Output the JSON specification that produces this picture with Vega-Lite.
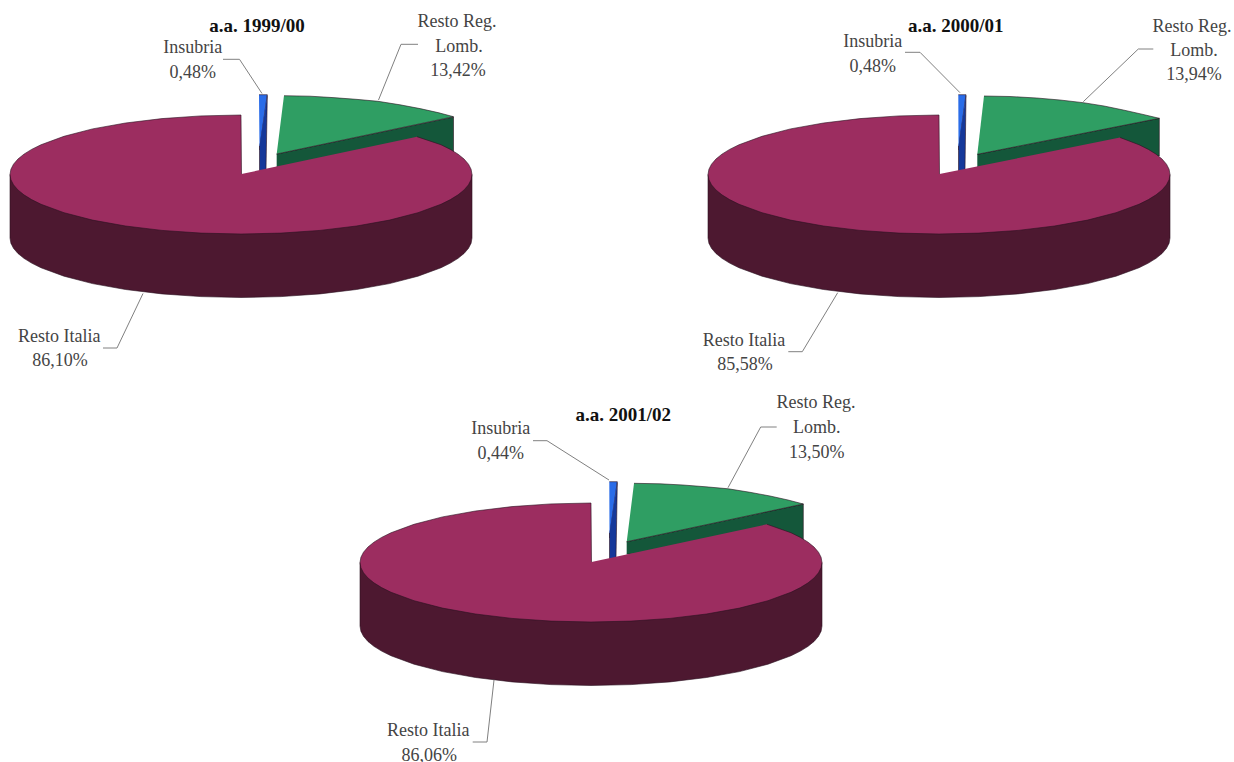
{"$schema":"https://vega.github.io/schema/vega-lite/v6.json","padding":0,"background":"white","spacing":0,"config":{"view":{"stroke":null},"concat":{"spacing":0}},
"datasets":{
"shapes":[
{"year":"1999/00","part":"RegSide","seq":1,"x":276.7,"y":154},{"year":"1999/00","part":"RegSide","seq":2,"x":453.5,"y":117},{"year":"1999/00","part":"RegSide","seq":3,"x":453.5,"y":152},{"year":"1999/00","part":"RegSide","seq":4,"x":276.7,"y":167},
{"year":"2000/01","part":"RegSide","seq":1,"x":279.3,"y":154.3},{"year":"2000/01","part":"RegSide","seq":2,"x":461.3,"y":118.3},{"year":"2000/01","part":"RegSide","seq":3,"x":461.3,"y":156},{"year":"2000/01","part":"RegSide","seq":4,"x":279.3,"y":167},
{"year":"2001/02","part":"RegSide","seq":1,"x":276.7,"y":153.7},{"year":"2001/02","part":"RegSide","seq":2,"x":453.3,"y":116},{"year":"2001/02","part":"RegSide","seq":3,"x":453.3,"y":152},{"year":"2001/02","part":"RegSide","seq":4,"x":276.7,"y":166.3},
{"year":"1999/00","part":"RegTop","seq":1,"x":284,"y":95.7},{"year":"1999/00","part":"RegTop","seq":2,"x":310,"y":96.2},{"year":"1999/00","part":"RegTop","seq":3,"x":333,"y":97.6},{"year":"1999/00","part":"RegTop","seq":4,"x":356,"y":99.3},{"year":"1999/00","part":"RegTop","seq":5,"x":378,"y":101.3},{"year":"1999/00","part":"RegTop","seq":6,"x":400,"y":104.8},{"year":"1999/00","part":"RegTop","seq":7,"x":420,"y":108.6},{"year":"1999/00","part":"RegTop","seq":8,"x":438,"y":112.6},{"year":"1999/00","part":"RegTop","seq":9,"x":453.5,"y":116.7},{"year":"1999/00","part":"RegTop","seq":10,"x":276.7,"y":154},
{"year":"2000/01","part":"RegTop","seq":1,"x":286,"y":96},{"year":"2000/01","part":"RegTop","seq":2,"x":312,"y":96.5},{"year":"2000/01","part":"RegTop","seq":3,"x":338.7,"y":98},{"year":"2000/01","part":"RegTop","seq":4,"x":362,"y":100},{"year":"2000/01","part":"RegTop","seq":5,"x":385.3,"y":102.7},{"year":"2000/01","part":"RegTop","seq":6,"x":406,"y":106},{"year":"2000/01","part":"RegTop","seq":7,"x":425.3,"y":110},{"year":"2000/01","part":"RegTop","seq":8,"x":444,"y":114.2},{"year":"2000/01","part":"RegTop","seq":9,"x":461.3,"y":118.3},{"year":"2000/01","part":"RegTop","seq":10,"x":279.3,"y":154.3},
{"year":"2001/02","part":"RegTop","seq":1,"x":284,"y":95.3},{"year":"2001/02","part":"RegTop","seq":2,"x":310,"y":95.8},{"year":"2001/02","part":"RegTop","seq":3,"x":333,"y":97},{"year":"2001/02","part":"RegTop","seq":4,"x":356,"y":98.8},{"year":"2001/02","part":"RegTop","seq":5,"x":378.3,"y":100.8},{"year":"2001/02","part":"RegTop","seq":6,"x":400,"y":104.3},{"year":"2001/02","part":"RegTop","seq":7,"x":420,"y":108},{"year":"2001/02","part":"RegTop","seq":8,"x":438,"y":112},{"year":"2001/02","part":"RegTop","seq":9,"x":453.3,"y":116},{"year":"2001/02","part":"RegTop","seq":10,"x":276.7,"y":153.7},
{"year":"1999/00","part":"InsTop","seq":1,"x":259,"y":94.7},{"year":"1999/00","part":"InsTop","seq":2,"x":267.3,"y":94.7},{"year":"1999/00","part":"InsTop","seq":3,"x":260,"y":146},{"year":"1999/00","part":"InsTop","seq":4,"x":259.5,"y":150},
{"year":"2000/01","part":"InsTop","seq":1,"x":260.3,"y":94.7},{"year":"2000/01","part":"InsTop","seq":2,"x":268,"y":94.7},{"year":"2000/01","part":"InsTop","seq":3,"x":261,"y":146},{"year":"2000/01","part":"InsTop","seq":4,"x":260.5,"y":150},
{"year":"2001/02","part":"InsTop","seq":1,"x":259.3,"y":93.7},{"year":"2001/02","part":"InsTop","seq":2,"x":267.3,"y":93.7},{"year":"2001/02","part":"InsTop","seq":3,"x":260,"y":145},{"year":"2001/02","part":"InsTop","seq":4,"x":259.5,"y":150},
{"year":"1999/00","part":"InsSide","seq":1,"x":267.3,"y":95.5},{"year":"1999/00","part":"InsSide","seq":2,"x":266,"y":170},{"year":"1999/00","part":"InsSide","seq":3,"x":259.5,"y":172},{"year":"1999/00","part":"InsSide","seq":4,"x":259.5,"y":146},
{"year":"2000/01","part":"InsSide","seq":1,"x":268,"y":95.5},{"year":"2000/01","part":"InsSide","seq":2,"x":267,"y":170},{"year":"2000/01","part":"InsSide","seq":3,"x":260.5,"y":172},{"year":"2000/01","part":"InsSide","seq":4,"x":260.5,"y":146},
{"year":"2001/02","part":"InsSide","seq":1,"x":267.3,"y":94.5},{"year":"2001/02","part":"InsSide","seq":2,"x":266,"y":169.7},{"year":"2001/02","part":"InsSide","seq":3,"x":259.5,"y":172},{"year":"2001/02","part":"InsSide","seq":4,"x":259.5,"y":145},
{"year":"*","part":"ItaSide","seq":1,"x":10,"y":174.5},{"year":"*","part":"ItaSide","seq":2,"x":10,"y":238},{"year":"*","part":"ItaSide","seq":3,"x":10.9,"y":243.2},{"year":"*","part":"ItaSide","seq":4,"x":13.5,"y":248.3},{"year":"*","part":"ItaSide","seq":5,"x":17.9,"y":253.4},{"year":"*","part":"ItaSide","seq":6,"x":23.9,"y":258.3},{"year":"*","part":"ItaSide","seq":7,"x":31.6,"y":263.1},{"year":"*","part":"ItaSide","seq":8,"x":41,"y":267.75},{"year":"*","part":"ItaSide","seq":9,"x":64,"y":276.2},{"year":"*","part":"ItaSide","seq":10,"x":92.5,"y":283.6},{"year":"*","part":"ItaSide","seq":11,"x":125.5,"y":289.5},{"year":"*","part":"ItaSide","seq":12,"x":162,"y":293.9},{"year":"*","part":"ItaSide","seq":13,"x":200.9,"y":296.6},{"year":"*","part":"ItaSide","seq":14,"x":241,"y":297.5},{"year":"*","part":"ItaSide","seq":15,"x":281.1,"y":296.6},{"year":"*","part":"ItaSide","seq":16,"x":320,"y":293.9},{"year":"*","part":"ItaSide","seq":17,"x":356.5,"y":289.5},{"year":"*","part":"ItaSide","seq":18,"x":389.5,"y":283.6},{"year":"*","part":"ItaSide","seq":19,"x":418,"y":276.2},{"year":"*","part":"ItaSide","seq":20,"x":441,"y":267.75},{"year":"*","part":"ItaSide","seq":21,"x":450.4,"y":263.1},{"year":"*","part":"ItaSide","seq":22,"x":458.1,"y":258.3},{"year":"*","part":"ItaSide","seq":23,"x":464.1,"y":253.4},{"year":"*","part":"ItaSide","seq":24,"x":468.5,"y":248.3},{"year":"*","part":"ItaSide","seq":25,"x":471.1,"y":243.2},{"year":"*","part":"ItaSide","seq":26,"x":472,"y":238},{"year":"*","part":"ItaSide","seq":27,"x":472,"y":174.5},
{"year":"*","part":"ItaTop","seq":0,"x":241.5,"y":174},{"year":"*","part":"ItaTop","seq":1,"x":241,"y":115},{"year":"*","part":"ItaTop","seq":2,"x":200.9,"y":115.9},{"year":"*","part":"ItaTop","seq":3,"x":162,"y":118.6},{"year":"*","part":"ItaTop","seq":4,"x":125.5,"y":123},{"year":"*","part":"ItaTop","seq":5,"x":92.5,"y":128.9},{"year":"*","part":"ItaTop","seq":6,"x":64,"y":136.3},{"year":"*","part":"ItaTop","seq":7,"x":41,"y":144.75},{"year":"*","part":"ItaTop","seq":8,"x":31.6,"y":149.4},{"year":"*","part":"ItaTop","seq":9,"x":23.9,"y":154.2},{"year":"*","part":"ItaTop","seq":10,"x":17.9,"y":159.1},{"year":"*","part":"ItaTop","seq":11,"x":13.5,"y":164.2},{"year":"*","part":"ItaTop","seq":12,"x":10.9,"y":169.3},{"year":"*","part":"ItaTop","seq":13,"x":10,"y":174.5},{"year":"*","part":"ItaTop","seq":14,"x":10.9,"y":179.7},{"year":"*","part":"ItaTop","seq":15,"x":13.5,"y":184.8},{"year":"*","part":"ItaTop","seq":16,"x":17.9,"y":189.9},{"year":"*","part":"ItaTop","seq":17,"x":23.9,"y":194.8},{"year":"*","part":"ItaTop","seq":18,"x":31.6,"y":199.6},{"year":"*","part":"ItaTop","seq":19,"x":41,"y":204.25},{"year":"*","part":"ItaTop","seq":20,"x":64,"y":212.7},{"year":"*","part":"ItaTop","seq":21,"x":92.5,"y":220.1},{"year":"*","part":"ItaTop","seq":22,"x":125.5,"y":226},{"year":"*","part":"ItaTop","seq":23,"x":162,"y":230.4},{"year":"*","part":"ItaTop","seq":24,"x":200.9,"y":233.1},{"year":"*","part":"ItaTop","seq":25,"x":241,"y":234},{"year":"*","part":"ItaTop","seq":26,"x":281.1,"y":233.1},{"year":"*","part":"ItaTop","seq":27,"x":320,"y":230.4},{"year":"*","part":"ItaTop","seq":28,"x":356.5,"y":226},{"year":"*","part":"ItaTop","seq":29,"x":389.5,"y":220.1},{"year":"*","part":"ItaTop","seq":30,"x":418,"y":212.7},{"year":"*","part":"ItaTop","seq":31,"x":441,"y":204.25},{"year":"*","part":"ItaTop","seq":32,"x":450.4,"y":199.6},{"year":"*","part":"ItaTop","seq":33,"x":458.1,"y":194.8},{"year":"*","part":"ItaTop","seq":34,"x":464.1,"y":189.9},{"year":"*","part":"ItaTop","seq":35,"x":468.5,"y":184.8},{"year":"*","part":"ItaTop","seq":36,"x":471.1,"y":179.7},{"year":"*","part":"ItaTop","seq":37,"x":472,"y":174.5},{"year":"*","part":"ItaTop","seq":38,"x":471.1,"y":169.3},{"year":"*","part":"ItaTop","seq":39,"x":468.5,"y":164.2},{"year":"*","part":"ItaTop","seq":40,"x":464.1,"y":159.1},{"year":"*","part":"ItaTop","seq":41,"x":458.1,"y":154.2},{"year":"*","part":"ItaTop","seq":42,"x":450.4,"y":149.4},{"year":"*","part":"ItaTop","seq":43,"x":441,"y":144.75},
{"year":"1999/00","part":"ItaTop","seq":44,"x":417,"y":136.7},{"year":"2000/01","part":"ItaTop","seq":44,"x":422,"y":137.5},{"year":"2001/02","part":"ItaTop","seq":44,"x":417,"y":136.3}
],
"leaders":[
{"year":"1999/00","to":"Insubria","seq":1,"x":223,"y":59.3},{"year":"1999/00","to":"Insubria","seq":2,"x":239.5,"y":59.3},{"year":"1999/00","to":"Insubria","seq":3,"x":262,"y":93.5},
{"year":"1999/00","to":"Reg","seq":1,"x":418,"y":44.3},{"year":"1999/00","to":"Reg","seq":2,"x":401,"y":44.3},{"year":"1999/00","to":"Reg","seq":3,"x":378.5,"y":100},
{"year":"1999/00","to":"Italia","seq":1,"x":103,"y":348},{"year":"1999/00","to":"Italia","seq":2,"x":117,"y":348},{"year":"1999/00","to":"Italia","seq":3,"x":143,"y":293.5},
{"year":"2000/01","to":"Insubria","seq":1,"x":207,"y":52.3},{"year":"2000/01","to":"Insubria","seq":2,"x":222,"y":52.3},{"year":"2000/01","to":"Insubria","seq":3,"x":262,"y":92.7},
{"year":"2000/01","to":"Reg","seq":1,"x":455.3,"y":49},{"year":"2000/01","to":"Reg","seq":2,"x":440.3,"y":49},{"year":"2000/01","to":"Reg","seq":3,"x":385.3,"y":101.7},
{"year":"2000/01","to":"Italia","seq":1,"x":90.3,"y":351.7},{"year":"2000/01","to":"Italia","seq":2,"x":104.3,"y":351.7},{"year":"2000/01","to":"Italia","seq":3,"x":139.7,"y":292.7},
{"year":"2001/02","to":"Insubria","seq":1,"x":183,"y":52.7},{"year":"2001/02","to":"Insubria","seq":2,"x":197,"y":52.7},{"year":"2001/02","to":"Insubria","seq":3,"x":259,"y":92},
{"year":"2001/02","to":"Reg","seq":1,"x":426.7,"y":39},{"year":"2001/02","to":"Reg","seq":2,"x":410.7,"y":39},{"year":"2001/02","to":"Reg","seq":3,"x":378,"y":99.7},
{"year":"2001/02","to":"Italia","seq":1,"x":122.7,"y":354},{"year":"2001/02","to":"Italia","seq":2,"x":137,"y":354},{"year":"2001/02","to":"Italia","seq":3,"x":144,"y":292}
],
"labels":[
{"year":"1999/00","text":"Insubria","x":192.7,"y":48.3},{"year":"1999/00","text":"0,48%","x":192.7,"y":72.7},{"year":"1999/00","text":"Resto Reg.","x":457,"y":22},{"year":"1999/00","text":"Lomb.","x":459,"y":46.7},{"year":"1999/00","text":"13,42%","x":458,"y":70.7},{"year":"1999/00","text":"Resto Italia","x":59.3,"y":336.7},{"year":"1999/00","text":"86,10%","x":60,"y":360.7},
{"year":"2000/01","text":"Insubria","x":174.7,"y":41.7},{"year":"2000/01","text":"0,48%","x":174.7,"y":66.7},{"year":"2000/01","text":"Resto Reg.","x":494,"y":27},{"year":"2000/01","text":"Lomb.","x":496,"y":51},{"year":"2000/01","text":"13,94%","x":496,"y":75},{"year":"2000/01","text":"Resto Italia","x":46,"y":340.7},{"year":"2000/01","text":"85,58%","x":47,"y":365},
{"year":"2001/02","text":"Insubria","x":150.7,"y":41.3},{"year":"2001/02","text":"0,44%","x":150.7,"y":66.3},{"year":"2001/02","text":"Resto Reg.","x":466,"y":15},{"year":"2001/02","text":"Lomb.","x":466.7,"y":40.3},{"year":"2001/02","text":"13,50%","x":466.7,"y":65.3},{"year":"2001/02","text":"Resto Italia","x":78.3,"y":343},{"year":"2001/02","text":"86,06%","x":79.3,"y":367.7}
],
"titles":[
{"year":"1999/00","text":"a.a. 1999/00","x":257,"y":25.7},{"year":"2000/01","text":"a.a. 2000/01","x":257.7,"y":25.7},{"year":"2001/02","text":"a.a. 2001/02","x":273.3,"y":27}
]},
"vconcat":[
{"hconcat":[
{"width":500,"height":388,
"encoding":{"x":{"field":"x","type":"quantitative","axis":null,"scale":{"domain":[0,500],"nice":false,"zero":false}},"y":{"field":"y","type":"quantitative","axis":null,"scale":{"domain":[388,0],"nice":false,"zero":false}}},
"layer":[
{"data":{"name":"shapes"},"transform":[{"filter":"datum.year=='*'||datum.year=='1999/00'"}],"mark":{"type":"line","filled":true,"stroke":"#2a1020","strokeWidth":0.6},"encoding":{"order":{"field":"seq"},"color":{"field":"part","legend":null,"scale":{"domain":["RegSide","RegTop","InsTop","InsSide","ItaSide","ItaTop"],"range":["#14573a","#2f9e63","#2a6ce8","#15389a","#4d1830","#9c2d60"]}}}},
{"data":{"name":"leaders"},"transform":[{"filter":"datum.year=='1999/00'"}],"mark":{"type":"line","stroke":"#808080","strokeWidth":1},"encoding":{"order":{"field":"seq"},"detail":{"field":"to"}}},
{"data":{"name":"labels"},"transform":[{"filter":"datum.year=='1999/00'"}],"mark":{"type":"text","font":"Liberation Serif","fontSize":18,"fill":"#444444"},"encoding":{"text":{"field":"text"}}},
{"data":{"name":"titles"},"transform":[{"filter":"datum.year=='1999/00'"}],"mark":{"type":"text","font":"Liberation Serif","fontSize":19,"fontWeight":"bold","fill":"#111111"},"encoding":{"text":{"field":"text"}}}
]},
{"width":536,"height":388,
"encoding":{"x":{"field":"x","type":"quantitative","axis":null,"scale":{"domain":[0,536],"nice":false,"zero":false}},"y":{"field":"y","type":"quantitative","axis":null,"scale":{"domain":[388,0],"nice":false,"zero":false}}},
"layer":[
{"data":{"name":"shapes"},"transform":[{"filter":"datum.year=='*'||datum.year=='2000/01'"}],"mark":{"type":"line","filled":true,"stroke":"#2a1020","strokeWidth":0.6},"encoding":{"order":{"field":"seq"},"color":{"field":"part","legend":null,"scale":{"domain":["RegSide","RegTop","InsTop","InsSide","ItaSide","ItaTop"],"range":["#14573a","#2f9e63","#2a6ce8","#15389a","#4d1830","#9c2d60"]}}}},
{"data":{"name":"leaders"},"transform":[{"filter":"datum.year=='2000/01'"}],"mark":{"type":"line","stroke":"#808080","strokeWidth":1},"encoding":{"order":{"field":"seq"},"detail":{"field":"to"}}},
{"data":{"name":"labels"},"transform":[{"filter":"datum.year=='2000/01'"}],"mark":{"type":"text","font":"Liberation Serif","fontSize":18,"fill":"#444444"},"encoding":{"text":{"field":"text"}}},
{"data":{"name":"titles"},"transform":[{"filter":"datum.year=='2000/01'"}],"mark":{"type":"text","font":"Liberation Serif","fontSize":19,"fontWeight":"bold","fill":"#111111"},"encoding":{"text":{"field":"text"}}}
]}
],"spacing":198},
{"width":850,"height":374,
"encoding":{"x":{"field":"x","type":"quantitative","axis":null,"scale":{"domain":[-350,500],"nice":false,"zero":false}},"y":{"field":"y","type":"quantitative","axis":null,"scale":{"domain":[374,0],"nice":false,"zero":false}}},
"layer":[
{"data":{"name":"shapes"},"transform":[{"filter":"datum.year=='*'||datum.year=='2001/02'"}],"mark":{"type":"line","filled":true,"stroke":"#2a1020","strokeWidth":0.6},"encoding":{"order":{"field":"seq"},"color":{"field":"part","legend":null,"scale":{"domain":["RegSide","RegTop","InsTop","InsSide","ItaSide","ItaTop"],"range":["#14573a","#2f9e63","#2a6ce8","#15389a","#4d1830","#9c2d60"]}}}},
{"data":{"name":"leaders"},"transform":[{"filter":"datum.year=='2001/02'"}],"mark":{"type":"line","stroke":"#808080","strokeWidth":1},"encoding":{"order":{"field":"seq"},"detail":{"field":"to"}}},
{"data":{"name":"labels"},"transform":[{"filter":"datum.year=='2001/02'"}],"mark":{"type":"text","font":"Liberation Serif","fontSize":18,"fill":"#444444"},"encoding":{"text":{"field":"text"}}},
{"data":{"name":"titles"},"transform":[{"filter":"datum.year=='2001/02'"}],"mark":{"type":"text","font":"Liberation Serif","fontSize":19,"fontWeight":"bold","fill":"#111111"},"encoding":{"text":{"field":"text"}}}
]}
]}
